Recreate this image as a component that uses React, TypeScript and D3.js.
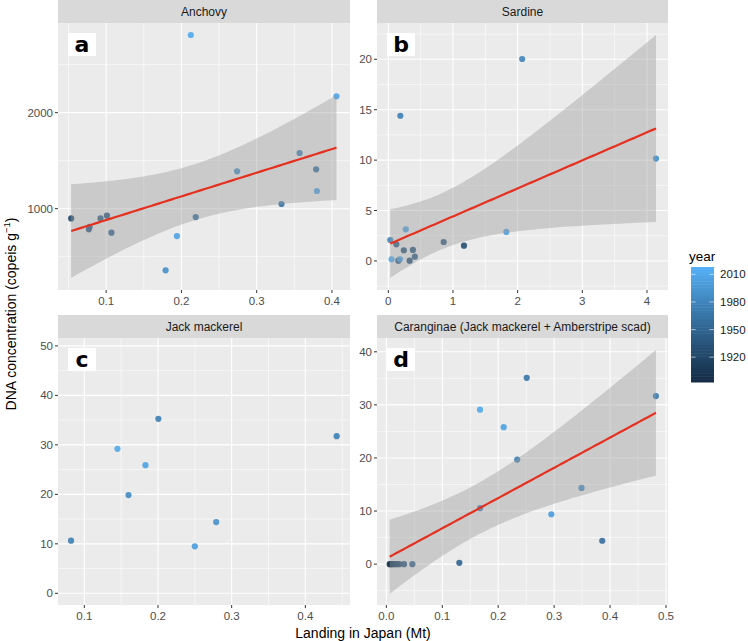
import React from 'react';
import * as d3 from 'd3';

// values
const anchovyLanding = [0.0535, 0.077, 0.078, 0.0925, 0.101, 0.107, 0.179, 0.194, 0.2125, 0.219, 0.274, 0.333, 0.357, 0.379, 0.38, 0.406];
const anchovyDNA = [899, 785, 812, 899, 927, 750, 358, 715, 2809, 913, 1389, 1049, 1580, 1410, 1184, 2170];
const anchovyYear = [1925, 1940, 1945, 1940, 1935, 1945, 1990, 2005, 2012, 1960, 1985, 1965, 1975, 1960, 2005, 2008];

const sardineLanding = [0.03, 0.05, 0.124, 0.155, 0.18, 0.186, 0.24, 0.27, 0.33, 0.38, 0.41, 0.856, 1.17, 1.825, 2.07, 4.14];
const sardineDNA = [2.08, 0.17, 1.65, 0.03, 0.17, 14.4, 1.06, 3.14, 0.03, 1.09, 0.43, 1.88, 1.52, 2.88, 20.03, 10.15];
const sardineYear = [1980, 2010, 1940, 1935, 2005, 1975, 1935, 2008, 1930, 1935, 1940, 1940, 1930, 2005, 1980, 1990];

const jackLanding = [0.082, 0.145, 0.16, 0.183, 0.2005, 0.25, 0.279, 0.4425];
const jackDNA = [10.63, 29.2, 19.85, 25.9, 35.26, 9.49, 14.4, 31.76];
const jackYear = [1975, 2010, 1985, 2005, 1975, 2000, 1990, 1975];

const caranLanding = [0.006, 0.0085, 0.011, 0.0143, 0.019, 0.023, 0.0316, 0.0465, 0.1305, 0.1675, 0.1675, 0.2098, 0.234, 0.251, 0.295, 0.349, 0.386, 0.482];
const caranDNA = [0, 0, 0, 0, 0, 0, 0, 0, 0.25, 29.1, 10.55, 25.8, 19.7, 35.1, 9.4, 14.35, 4.4, 31.65];
const caranYear = [1895, 1905, 1910, 1915, 1920, 1925, 1935, 1945, 1950, 2012, 1975, 2005, 1975, 1965, 2000, 1985, 1960, 1970];

const legendYears = [1920, 1950, 1980, 2010];

const FONT = 'Liberation Sans, Arial, Helvetica, sans-serif';

const color = d3.scaleLinear<string>()
  .domain([1893, 2018])
  .range(['#132B43', '#56B1F7'])
  .interpolate(d3.interpolateLab);

// t quantile approximation (Cornish-Fisher) for the 95% band
const tq = (df: number) => {
  const z = 1.959964;
  return z + (z ** 3 + z) / (4 * df) + (5 * z ** 5 + 16 * z ** 3 + 3 * z) / (96 * df * df)
    + (3 * z ** 7 + 19 * z ** 5 + 17 * z ** 3 - 15 * z) / (384 * df ** 3);
};

const lmBand = (xs: number[], ys: number[]) => {
  const n = xs.length;
  const mx = d3.mean(xs)!, my = d3.mean(ys)!;
  let sxx = 0, sxy = 0;
  xs.forEach((x, i) => { sxx += (x - mx) ** 2; sxy += (x - mx) * (ys[i] - my); });
  const b = sxy / sxx, a = my - b * mx;
  let rss = 0;
  xs.forEach((x, i) => { rss += (ys[i] - a - b * x) ** 2; });
  const s = Math.sqrt(rss / (n - 2));
  const t = tq(n - 2);
  const [lo, hi] = d3.extent(xs) as [number, number];
  return d3.range(80).map((i) => {
    const x = lo + (hi - lo) * i / 79;
    const fit = a + b * x;
    const se = s * Math.sqrt(1 / n + (x - mx) ** 2 / sxx);
    return { x, fit, lo: fit - t * se, hi: fit + t * se };
  });
};

const minorOf = (ticks: number[], dom: [number, number]) => {
  const step = ticks[1] - ticks[0];
  const out: number[] = [];
  for (let v = ticks[0] - step / 2; v <= dom[1]; v += step) {
    if (v >= dom[0]) out.push(v);
  }
  return out.filter((v) => !ticks.some((t) => Math.abs(t - v) < 1e-9));
};

type PanelDef = {
  title: string; tag: string;
  x: number[]; y: number[]; year: number[];
  xDom: [number, number]; yDom: [number, number];
  xTicks: number[]; yTicks: number[]; xFmt: string;
  smooth: boolean;
  left: number; right: number; top: number; bottom: number;
};

const panels: PanelDef[] = [
  { title: 'Anchovy', tag: 'a', x: anchovyLanding, y: anchovyDNA, year: anchovyYear,
    xDom: [0.036, 0.424], yDom: [153, 2934], xTicks: [0.1, 0.2, 0.3, 0.4], yTicks: [1000, 2000], xFmt: '.1f',
    smooth: true, left: 58, right: 350, top: 23, bottom: 290 },
  { title: 'Sardine', tag: 'b', x: sardineLanding, y: sardineDNA, year: sardineYear,
    xDom: [-0.175, 4.325], yDom: [-2.88, 23.6], xTicks: [0, 1, 2, 3, 4], yTicks: [0, 5, 10, 15, 20], xFmt: 'd',
    smooth: true, left: 377, right: 668, top: 23, bottom: 290 },
  { title: 'Jack mackerel', tag: 'c', x: jackLanding, y: jackDNA, year: jackYear,
    xDom: [0.0643, 0.4606], yDom: [-2.36, 51.6], xTicks: [0.1, 0.2, 0.3, 0.4], yTicks: [0, 10, 20, 30, 40, 50], xFmt: '.1f',
    smooth: false, left: 58, right: 350, top: 338, bottom: 605 },
  { title: 'Caranginae (Jack mackerel + Amberstripe scad)', tag: 'd', x: caranLanding, y: caranDNA, year: caranYear,
    xDom: [-0.0167, 0.5036], yDom: [-7.7, 42.6], xTicks: [0, 0.1, 0.2, 0.3, 0.4, 0.5], yTicks: [0, 10, 20, 30, 40], xFmt: '.1f',
    smooth: true, left: 377, right: 668, top: 338, bottom: 605 },
];

const Panel = ({ p }: { p: PanelDef }) => {
  const xs = d3.scaleLinear().domain(p.xDom).range([p.left, p.right]);
  const ys = d3.scaleLinear().domain(p.yDom).range([p.bottom, p.top]);
  const fmt = d3.format(p.xFmt);
  const band = p.smooth ? lmBand(p.x, p.y) : [];
  const area = d3.area<any>().x((d) => xs(d.x)).y0((d) => ys(d.lo)).y1((d) => ys(d.hi));
  const line = d3.line<any>().x((d) => xs(d.x)).y((d) => ys(d.fit));
  const stripH = 23;
  return (
    <g>
      <rect x={p.left} y={p.top - stripH} width={p.right - p.left} height={stripH} fill="#d9d9d9" />
      <text x={(p.left + p.right) / 2} y={p.top - stripH / 2 + 4} textAnchor="middle" fontSize={12} fill="#1a1a1a">{p.title}</text>
      <rect x={p.left} y={p.top} width={p.right - p.left} height={p.bottom - p.top} fill="#ebebeb" />
      {minorOf(p.xTicks, p.xDom).map((v) => (
        <line key={'mx' + v} x1={xs(v)} x2={xs(v)} y1={p.top} y2={p.bottom} stroke="#fff" strokeWidth={0.55} />
      ))}
      {minorOf(p.yTicks, p.yDom).map((v) => (
        <line key={'my' + v} x1={p.left} x2={p.right} y1={ys(v)} y2={ys(v)} stroke="#fff" strokeWidth={0.55} />
      ))}
      {p.xTicks.map((v) => (
        <line key={'gx' + v} x1={xs(v)} x2={xs(v)} y1={p.top} y2={p.bottom} stroke="#fff" strokeWidth={1.1} />
      ))}
      {p.yTicks.map((v) => (
        <line key={'gy' + v} x1={p.left} x2={p.right} y1={ys(v)} y2={ys(v)} stroke="#fff" strokeWidth={1.1} />
      ))}
      {p.x.map((v, i) => (
        <circle key={'pt' + i} cx={xs(v)} cy={ys(p.y[i])} r={3.1} fill={color(p.year[i])} fillOpacity={0.9} />
      ))}
      {p.smooth && (
        <g>
          <path d={area(band) || ''} fill="#999999" fillOpacity={0.4} />
          <path d={line(band) || ''} fill="none" stroke="#e5301f" strokeWidth={2.2} />
        </g>
      )}
      <rect x={p.left + 10} y={p.top + 10} width={28} height={23} fill="#fff" />
      <text x={p.left + 24} y={p.top + 29} textAnchor="middle" fontSize={22} fontWeight="bold"
        fontFamily="DejaVu Sans, sans-serif" fill="#000">{p.tag}</text>
      {p.xTicks.map((v) => (
        <g key={'tx' + v}>
          <line x1={xs(v)} x2={xs(v)} y1={p.bottom} y2={p.bottom + 3} stroke="#333" strokeWidth={1} />
          <text x={xs(v)} y={p.bottom + 15} textAnchor="middle" fontSize={11.5} fill="#4d4d4d">{fmt(v)}</text>
        </g>
      ))}
      {p.yTicks.map((v) => (
        <g key={'ty' + v}>
          <line x1={p.left - 3} x2={p.left} y1={ys(v)} y2={ys(v)} stroke="#333" strokeWidth={1} />
          <text x={p.left - 5} y={ys(v) + 4} textAnchor="end" fontSize={11.5} fill="#4d4d4d">{v}</text>
        </g>
      ))}
    </g>
  );
};

const Legend = () => {
  const x0 = 691, w = 23, top = 267, bottom = 382;
  const ly = d3.scaleLinear().domain([1893, 2018]).range([bottom, top]);
  const steps = d3.range(40);
  return (
    <g>
      <text x={689} y={261} fontSize={13.5} fill="#000">year</text>
      {steps.map((i) => {
        const y0 = bottom - (bottom - top) * (i + 1) / 40;
        const yr = 1893 + (2018 - 1893) * (i + 0.5) / 40;
        return <rect key={i} x={x0} y={y0} width={w} height={(bottom - top) / 40 + 0.5} fill={color(yr)} />;
      })}
      {legendYears.map((yr) => (
        <g key={yr}>
          <line x1={x0} x2={x0 + 4.6} y1={ly(yr)} y2={ly(yr)} stroke="#fff" strokeOpacity={0.7} strokeWidth={0.8} />
          <line x1={x0 + w - 4.6} x2={x0 + w} y1={ly(yr)} y2={ly(yr)} stroke="#fff" strokeOpacity={0.7} strokeWidth={0.8} />
          <text x={x0 + w + 6} y={ly(yr) + 4} fontSize={11.5} fill="#1a1a1a">{yr}</text>
        </g>
      ))}
    </g>
  );
};

export default function App() {
  return (
    <svg width={748} height={641} style={{ position: 'absolute', left: 0, top: 0 }} fontFamily={FONT}>
      <rect width={748} height={641} fill="#fff" />
      {panels.map((p) => <Panel key={p.tag} p={p} />)}
      <Legend />
      <text transform="translate(16,314) rotate(-90)" textAnchor="middle" fontSize={14} fill="#000">
        DNA concentration (copeis g<tspan fontSize={9.5} dy={-6}>−1</tspan><tspan dy={6}>)</tspan>
      </text>
      <text x={363} y={638} textAnchor="middle" fontSize={14} fill="#000">Landing in Japan (Mt)</text>
    </svg>
  );
}
